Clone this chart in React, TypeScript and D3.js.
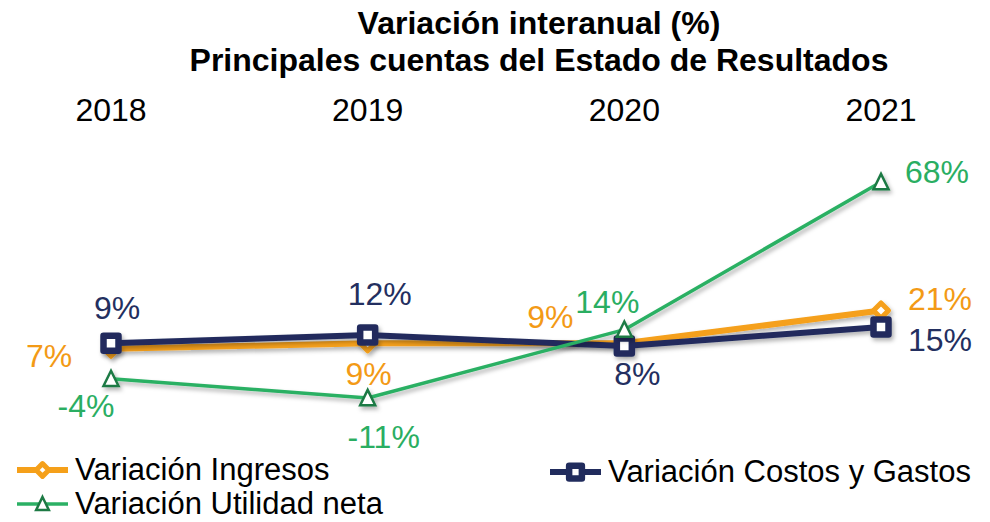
import React from 'react';
import * as d3 from 'd3';

// chart values
const years = ['2018', '2019', '2020', '2021'];
const ingresos = [7, 9, 9, 21];
const costos = [9, 12, 8, 15];
const utilidad = [-4, -11, 14, 68];

const titleLines = ['Variación interanual (%)', 'Principales cuentas del Estado de Resultados'];

// where each data label sits relative to its point (dx, baseline dy)
const ingresosLabelPos = [[-62, 18], [1, 42], [-74, -15], [59, -1]];
const costosLabelPos = [[6, -24], [12, -30], [13, 39], [59, 24]];
const utilidadLabelPos = [[-25, 38], [16, 50], [-17, -17], [56, 1]];

const W = 990;
const H = 522;
const FONT = '"Liberation Sans", Arial, Helvetica, sans-serif';

const ORANGE = '#F5A01A';
const NAVY = '#212C5D';
const GREEN = '#2BB064';
const DARK_GREEN = '#1D7A44';

const x = d3.scalePoint<string>().domain(years).range([111, 881]);
const y = d3.scaleLinear().domain([-11, 68]).range([398, 182]);

function Diamond({ cx, cy, r }: { cx: number; cy: number; r: number }) {
	const p = d3.path();
	p.moveTo(cx, cy - r);
	p.lineTo(cx + r, cy);
	p.lineTo(cx, cy + r);
	p.lineTo(cx - r, cy);
	p.closePath();
	return <path d={p.toString()} fill="#fff" stroke={ORANGE} strokeWidth={5} strokeLinejoin="round" />;
}

function Square({ cx, cy, s }: { cx: number; cy: number; s: number }) {
	return (
		<rect x={cx - s / 2} y={cy - s / 2} width={s} height={s}
			fill="#fff" stroke={NAVY} strokeWidth={6.5} strokeLinejoin="round" />
	);
}

function Triangle({ cx, cy, s }: { cx: number; cy: number; s: number }) {
	const h = s * 0.95;
	const p = d3.path();
	p.moveTo(cx, cy - h / 2 - 1);
	p.lineTo(cx + s / 2, cy + h / 2);
	p.lineTo(cx - s / 2, cy + h / 2);
	p.closePath();
	return <path d={p.toString()} fill="#fff" stroke={DARK_GREEN} strokeWidth={2.5} strokeLinejoin="miter" />;
}

export default function App() {
	const line = d3.line<number>()
		.x((d, i) => x(years[i]) as number)
		.y(d => y(d));

	const series = [
		{ key: 'ing', values: ingresos, color: ORANGE, width: 6, pos: ingresosLabelPos, labelColor: '#F39A16' },
		{ key: 'cos', values: costos, color: NAVY, width: 6, pos: costosLabelPos, labelColor: '#232F60' },
		{ key: 'uti', values: utilidad, color: GREEN, width: 3.5, pos: utilidadLabelPos, labelColor: '#2AAE62' },
	];

	const marker = (key: string, cx: number, cy: number, scale = 1) => {
		if (key === 'ing') return <Diamond cx={cx} cy={cy} r={7.5 * scale} />;
		if (key === 'cos') return <Square cx={cx} cy={cy} s={15 * scale} />;
		return <Triangle cx={cx} cy={cy} s={15 * scale} />;
	};

	const legend = [
		{ key: 'ing', label: 'Variación Ingresos', color: ORANGE, w: 6, lx: 17, ly: 470 },
		{ key: 'cos', label: 'Variación Costos y Gastos', color: NAVY, w: 6, lx: 550, ly: 472 },
		{ key: 'uti', label: 'Variación Utilidad neta', color: GREEN, w: 3.5, lx: 17, ly: 504 },
	];

	return (
		<svg width={W} height={H} style={{ position: 'absolute', left: 0, top: 0, background: '#fff' }}
			fontFamily={FONT}>
			<defs>
				<filter id="shadow" x="-10%" y="-30%" width="120%" height="160%">
					<feDropShadow dx="2" dy="3" stdDeviation="2" floodColor="#000" floodOpacity="0.3" />
				</filter>
			</defs>

			{/* title */}
			{titleLines.map((t, i) => (
				<text key={t} x={539} y={34 + i * 37} textAnchor="middle" fontSize={32} fontWeight="bold" fill="#000">{t}</text>
			))}

			{/* category labels along the top */}
			{years.map(yr => (
				<text key={yr} x={x(yr)} y={121} textAnchor="middle" fontSize={32} fill="#000">{yr}</text>
			))}

			{/* lines and markers */}
			{series.map(s => (
				<g key={s.key} filter="url(#shadow)">
					<path d={line(s.values) || ''} fill="none" stroke={s.color} strokeWidth={s.width} strokeLinejoin="round" />
					{s.values.map((v, i) => (
						<g key={i}>{marker(s.key, x(years[i]) as number, y(v))}</g>
					))}
				</g>
			))}

			{/* data labels */}
			{series.map(s => s.values.map((v, i) => (
				<text key={s.key + i} x={(x(years[i]) as number) + s.pos[i][0]} y={y(v) + s.pos[i][1]}
					textAnchor="middle" fontSize={32} fill={s.labelColor}>{v + '%'}</text>
			)))}

			{/* legend */}
			{legend.map(l => (
				<g key={l.key}>
					<line x1={l.lx} x2={l.lx + 51} y1={l.ly} y2={l.ly} stroke={l.color} strokeWidth={l.w} />
					{marker(l.key, l.lx + 25.5, l.ly, 0.85)}
					<text x={l.lx + 58} y={l.ly + 10} fontSize={31} fill="#000">{l.label}</text>
				</g>
			))}
		</svg>
	);
}
